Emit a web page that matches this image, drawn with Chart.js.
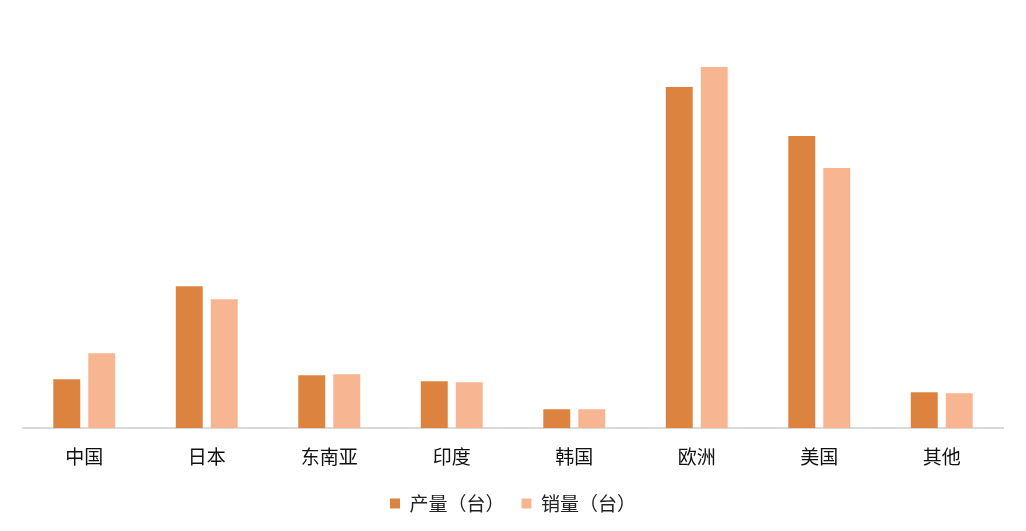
<!DOCTYPE html>
<html>
<head>
<meta charset="utf-8">
<script src="https://cdn.jsdelivr.net/npm/chart.js@4.4.1/dist/chart.umd.min.js"></script>
<style>
  html, body { margin: 0; padding: 0; background: #fff; }
  #wrap { width: 1026px; height: 531px; }
</style>
</head>
<body>
<div id="wrap"><canvas id="c"></canvas></div>
<script>
// values (no axis shown, so units are relative)
const categories = ['中国', '日本', '东南亚', '印度', '韩国', '欧洲', '美国', '其他'];
const production = [49, 142, 53, 47, 19, 341, 292, 36];
const sales = [75, 129, 54, 46, 19, 361, 260, 35];
const seriesNames = ['产量（台）', '销量（台）'];

const FONT_FAMILY = "'Noto Sans CJK SC', 'Noto Sans', sans-serif";

new Chart(document.getElementById('c'), {
  type: 'bar',
  data: {
    labels: categories,
    datasets: [
      { label: seriesNames[0], data: production, backgroundColor: '#dc843f' },
      { label: seriesNames[1], data: sales, backgroundColor: '#f8b591' },
    ],
  },
  options: {
    responsive: true,
    maintainAspectRatio: false,
    animation: false,
    categoryPercentage: 0.571,
    barPercentage: 0.77,
    layout: { padding: { top: 28, left: 23, right: 23, bottom: 8 } },
    plugins: {
      legend: {
        position: 'bottom',
        labels: {
          font: { family: FONT_FAMILY, size: 19 },
          color: '#222',
          boxWidth: 10,
          boxHeight: 10,
          padding: 17,
        },
      },
      tooltip: { enabled: false },
    },
    scales: {
      x: {
        grid: { display: false },
        border: { display: true, color: '#d9d9d9', width: 2 },
        ticks: { font: { family: FONT_FAMILY, size: 19 }, color: '#111', padding: 9 },
      },
      y: {
        display: false,
        min: 0,
        max: 400,
      },
    },
  },
});
</script>
</body>
</html>
